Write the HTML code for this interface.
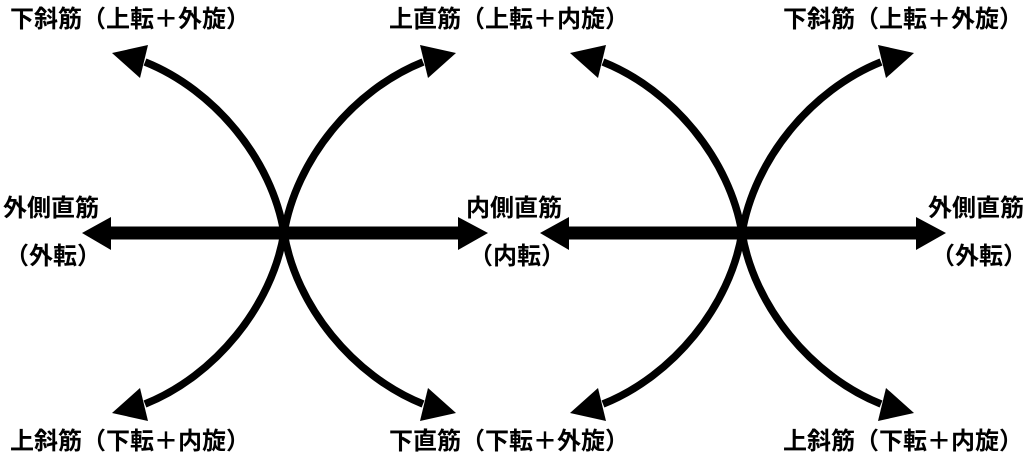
<!DOCTYPE html>
<html><head><meta charset="utf-8"><style>
html,body{margin:0;padding:0;background:#fff;}
body{width:1024px;height:468px;position:relative;overflow:hidden;font-family:"Liberation Sans","Noto Sans CJK JP",sans-serif;}
.t{position:absolute;font-weight:bold;font-size:24px;line-height:26px;white-space:nowrap;color:#000;}
svg{position:absolute;left:0;top:0;}
</style></head><body>
<svg width="1024" height="468" viewBox="0 0 1024 468">
<defs>
<g id="q">
<path d="M284,233 C272,160 215,90 145,62" fill="none" stroke="#000" stroke-width="7.5"/>
<polygon points="112,53 148,45 140,78" fill="#000"/>
</g>
<g id="d">
<rect x="105" y="226.5" width="358" height="13" fill="#000"/>
<polygon points="82,233 111,217 111,250" fill="#000"/>
<polygon points="488,233 458,217 458,250" fill="#000"/>
<use href="#q"/>
<use href="#q" transform="translate(568,0) scale(-1,1)"/>
<use href="#q" transform="translate(0,466) scale(1,-1)"/>
<use href="#q" transform="translate(568,466) scale(-1,-1)"/>
</g>
</defs>
<use href="#d"/>
<use href="#d" transform="translate(458,0)"/>
</svg>
<div class="t" style="left:10px;top:7px;">下斜筋（上転＋外旋）</div>
<div class="t" style="left:389px;top:7px;">上直筋（上転＋内旋）</div>
<div class="t" style="left:783px;top:7px;">下斜筋（上転＋外旋）</div>
<div class="t" style="left:10px;top:429px;">上斜筋（下転＋内旋）</div>
<div class="t" style="left:389px;top:429px;">下直筋（下転＋外旋）</div>
<div class="t" style="left:783px;top:429px;">上斜筋（下転＋内旋）</div>
<div class="t" style="left:3px;top:196px;">外側直筋</div>
<div class="t" style="left:5px;top:244px;">（外転）</div>
<div class="t" style="left:466px;top:196px;">内側直筋</div>
<div class="t" style="left:469px;top:244px;">（内転）</div>
<div class="t" style="left:928px;top:196px;">外側直筋</div>
<div class="t" style="left:931px;top:244px;">（外転）</div>
</body></html>
